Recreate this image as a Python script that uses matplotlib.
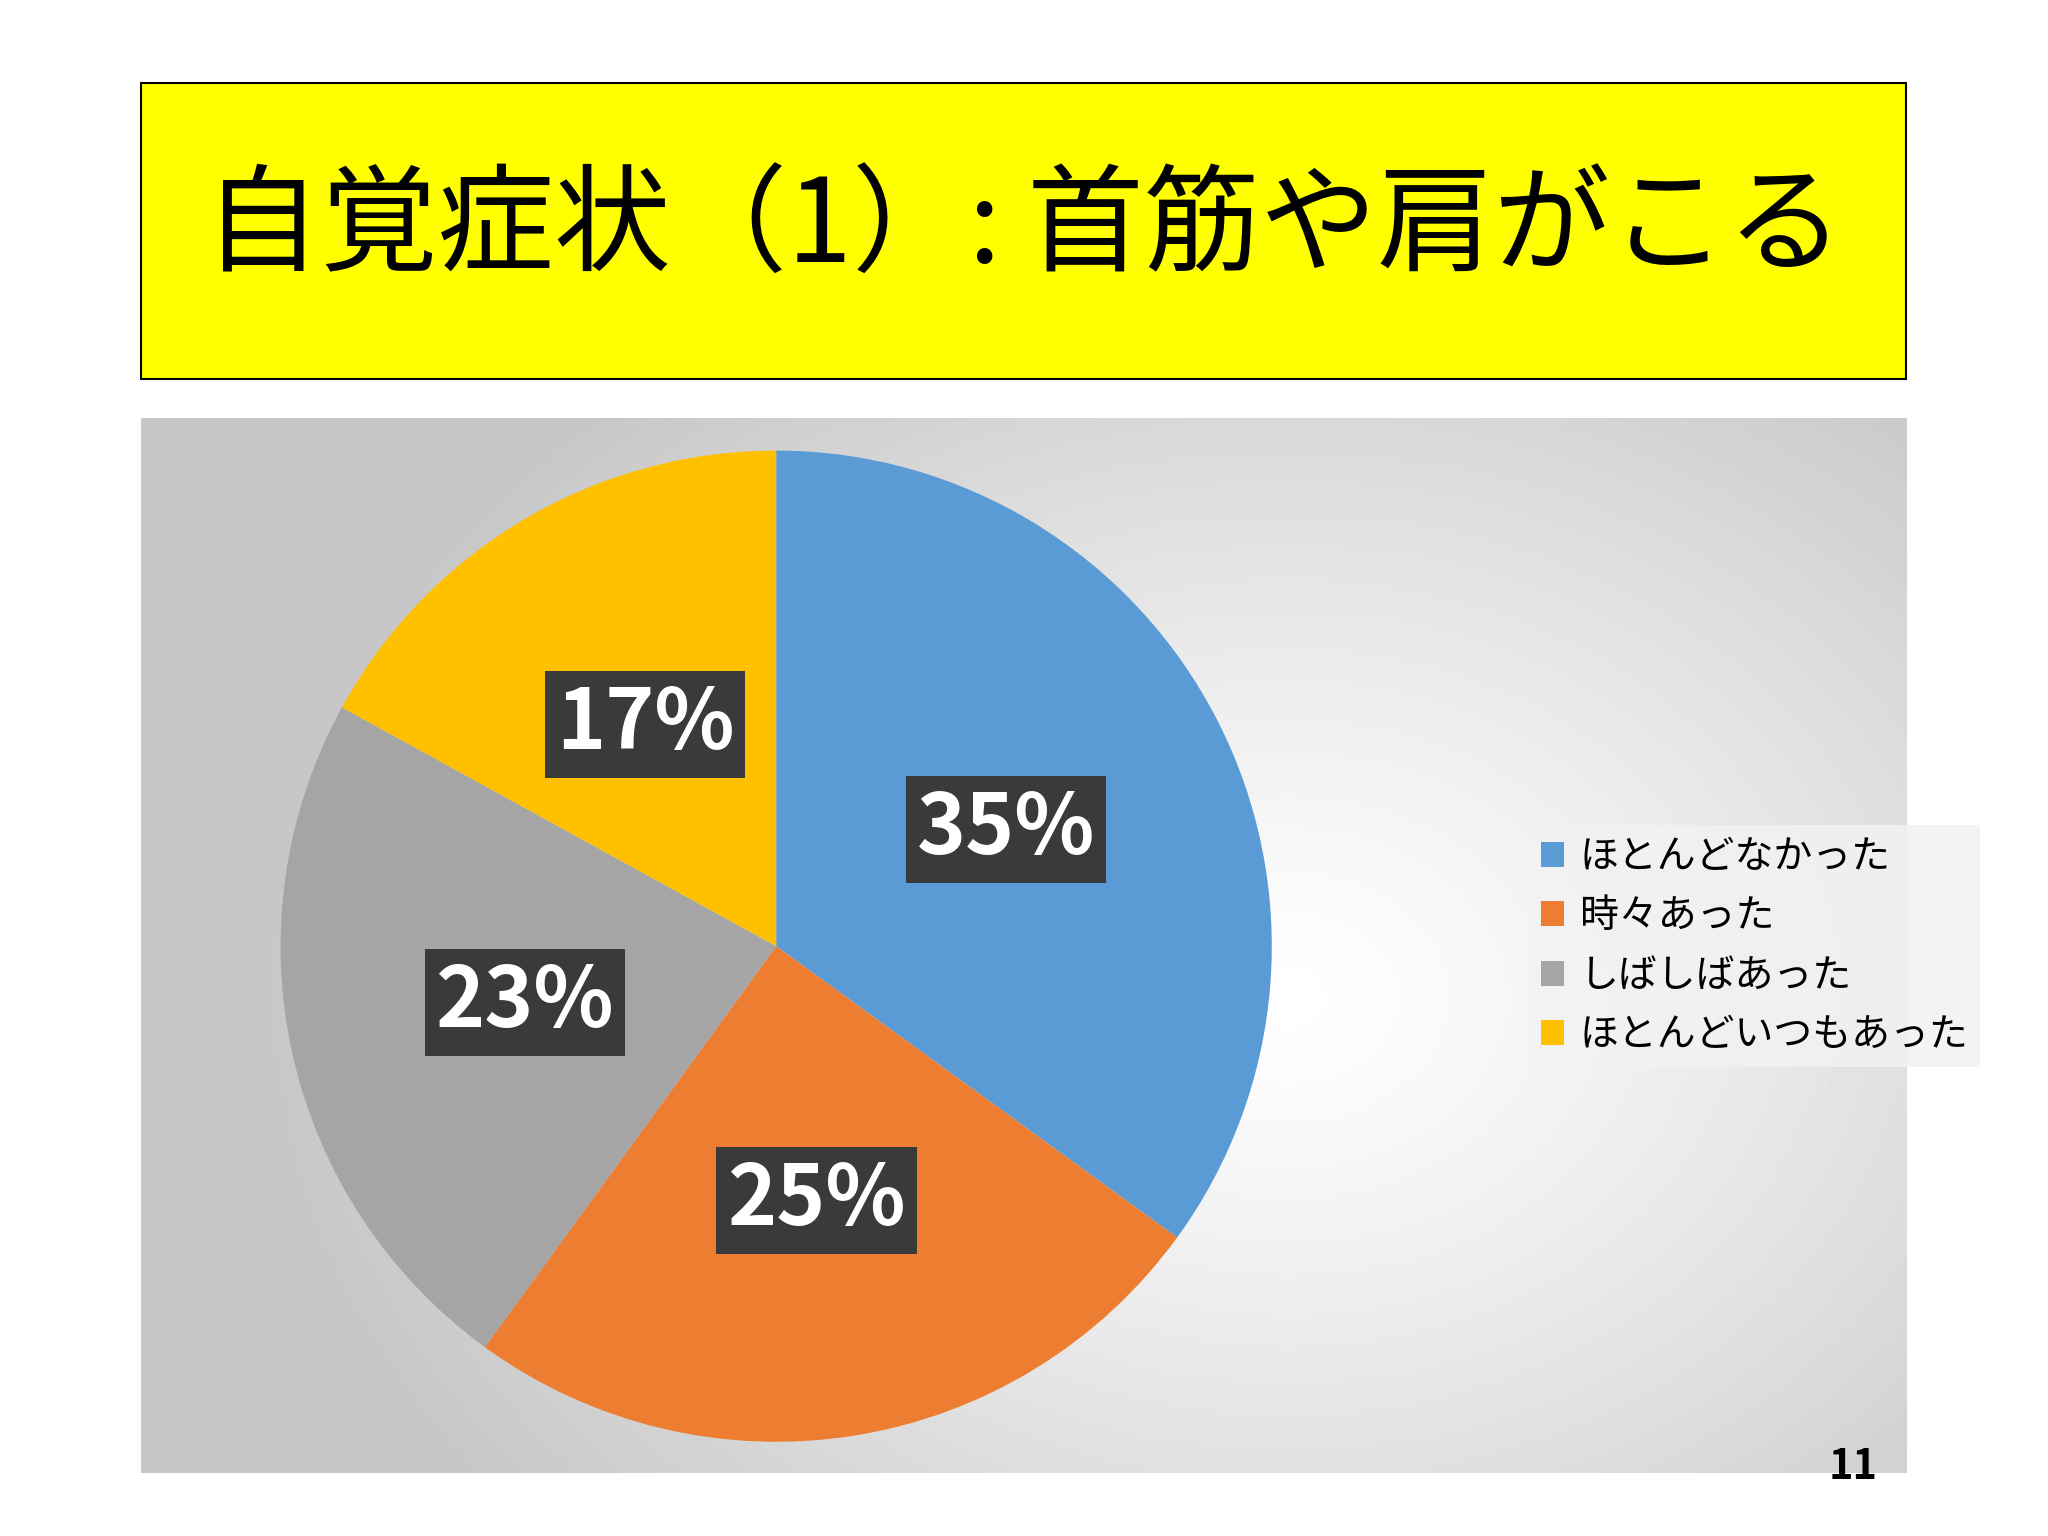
import matplotlib
matplotlib.use("Agg")
import matplotlib.pyplot as plt
import numpy as np
from matplotlib.patches import Rectangle

plt.rcParams['font.family'] = ['Noto Sans CJK JP', 'DejaVu Sans']

title = "自覚症状（1）: 首筋や肩がこる"
categories = ["ほとんどなかった", "時々あった", "しばしばあった", "ほとんどいつもあった"]
values = [35, 25, 23, 17]
colors = ["#5B9BD5", "#ED7D31", "#A5A5A5", "#FFC000"]
page = "11"

fig = plt.figure(figsize=(20.48, 15.36), dpi=100)
fig.patch.set_facecolor("white")

fig.patches.append(Rectangle((0.0689, 0.753), 0.862, 0.193, transform=fig.transFigure,
                             facecolor="#FFFF00", edgecolor="black", lw=1.5))
fig.text(0.5, 0.85, title, ha="center", va="center", fontsize=84)

bg = fig.add_axes([0.0689, 0.041, 0.862, 0.687])
yy, xx = np.mgrid[0:1:300j, 0:1:400j]
d = np.sqrt(((xx - 0.65) * 1.3) ** 2 + (yy - 0.55) ** 2)
img = 1.0 - 0.22 * np.clip(d / 0.75, 0, 1) ** 1.2
bg.imshow(img, cmap="gray", vmin=0, vmax=1, aspect="auto", extent=[0, 1, 0, 1])
bg.axis("off")

ax = fig.add_axes([0.137, 0.061, 0.484, 0.646])
wedges, _, autotexts = ax.pie(values, colors=colors, startangle=90, counterclock=False,
                              autopct="%d%%", pctdistance=0.52,
                              textprops=dict(color="white", fontsize=60, fontweight="bold"))
for t in autotexts:
    t.set_bbox(dict(facecolor="#3A3A3A", edgecolor="none", pad=8))
ax.set_xlim(-1, 1)
ax.set_ylim(-1, 1)
ax.set_aspect("equal")

leg = ax.legend(wedges, categories, loc="center left", bbox_to_anchor=(1.24, 0.5),
                fontsize=28, frameon=True, handlelength=0.6, handleheight=0.6,
                handletextpad=0.4, labelspacing=0.5, borderpad=0.3, fancybox=False)
leg.get_frame().set_facecolor("#F2F2F2")
leg.get_frame().set_edgecolor("none")
leg.get_frame().set_alpha(0.85)

fig.text(0.905, 0.045, page, ha="center", va="center", fontsize=30, fontweight="bold")

fig.savefig("out.png", dpi=100)
